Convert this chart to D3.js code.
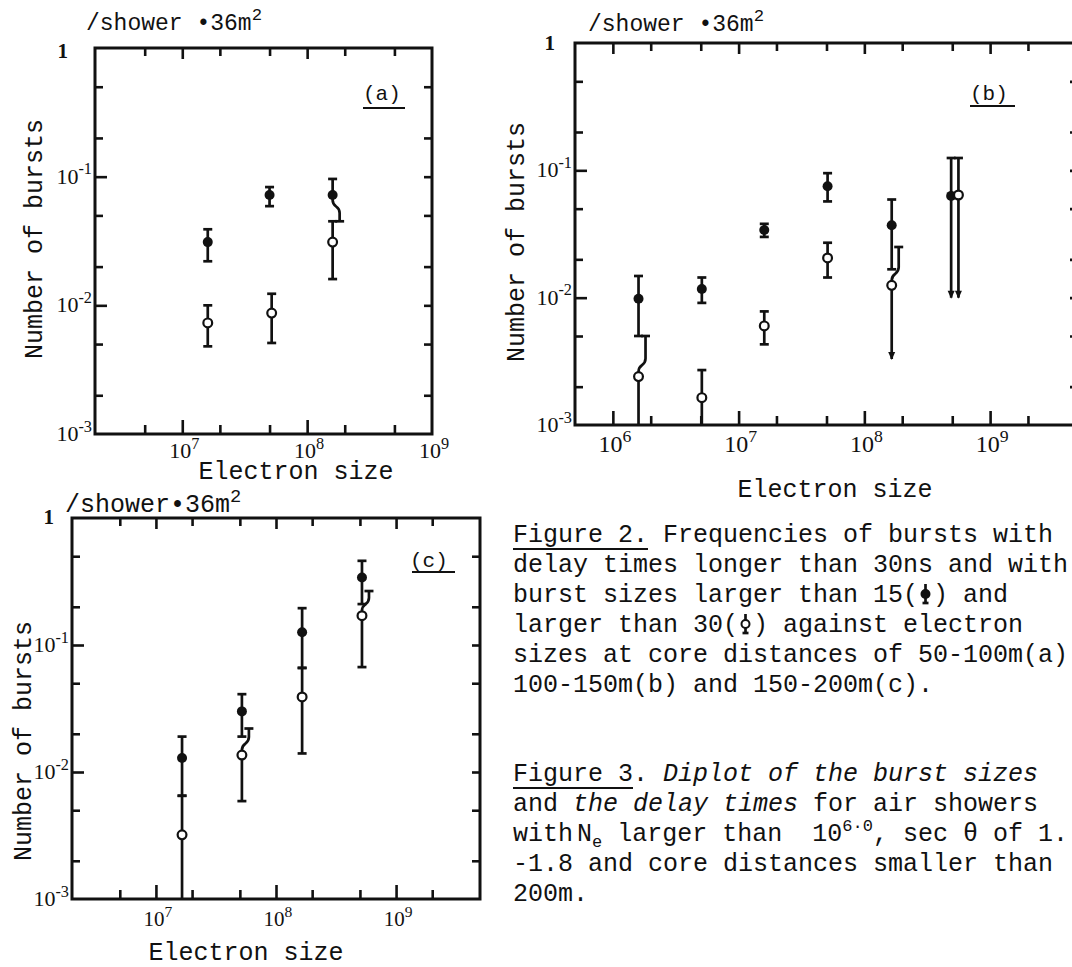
<!DOCTYPE html>
<html>
<head>
<meta charset="utf-8">
<script src="https://d3js.org/d3.v7.min.js"></script>
<style>
body { margin: 0; background: #fff; }
svg { font-family: "Liberation Mono", "DejaVu Sans Mono", monospace; }
.frame { fill: none; stroke: #111; stroke-width: 3; }
.ax .domain { display: none; }
.ax line { stroke: #111; stroke-width: 2.6; }
.bar { fill: none; stroke: #111; stroke-width: 2.7; }
.lab { font-family: "Liberation Serif", serif; fill: #111; }
.txt { fill: #111; }
</style>
</head>
<body>
<svg id="fig" width="1072" height="967"></svg>
<script>
// ---- panel (a) 50-100m ----
var aFilledX  = [1.6e7, 5.0e7, 1.6e8];
var aFilledY  = [0.031, 0.072, 0.072];
var aFilledHi = [0.039, 0.083, 0.096];
var aFilledLo = [0.022, 0.059, 0.045];
var aFilledMark = ["", "", "bendLo"];
var aOpenX  = [1.6e7, 5.2e7, 1.6e8];
var aOpenY  = [0.0073, 0.0087, 0.031];
var aOpenHi = [0.010, 0.0123, 0.045];
var aOpenLo = [0.0048, 0.0051, 0.016];
var aOpenMark = ["", "", ""];
var aXLabels = [1e7, 1e8, 1e9];

// ---- panel (b) 100-150m ----
var bFilledX  = [1.6e6, 5.1e6, 1.6e7, 5.1e7, 1.65e8, 4.9e8];
var bFilledY  = [0.0098, 0.0117, 0.034, 0.075, 0.037, 0.063];
var bFilledHi = [0.0148, 0.0144, 0.038, 0.095, 0.059, 0.125];
var bFilledLo = [0.005, 0.0091, 0.030, 0.057, 0.0167, 0.010];
var bFilledMark = ["", "", "", "", "", "arrowLo"];
var bOpenX  = [1.6e6, 5.1e6, 1.6e7, 5.1e7, 1.65e8, 5.6e8];
var bOpenY  = [0.0024, 0.00164, 0.0060, 0.0205, 0.0125, 0.064];
var bOpenHi = [0.005, 0.0027, 0.0078, 0.027, 0.025, 0.125];
var bOpenLo = [null, null, 0.0043, 0.0144, 0.0033, 0.010];
var bOpenMark = ["bendHi", "", "", "", "bendHi arrowLo", "arrowLo"];
var bXLabels = [1e6, 1e7, 1e8, 1e9];

// ---- panel (c) 150-200m ----
var cFilledX  = [1.65e7, 5.2e7, 1.65e8, 5.2e8];
var cFilledY  = [0.0129, 0.030, 0.126, 0.34];
var cFilledHi = [0.019, 0.041, 0.195, 0.46];
var cFilledLo = [0.0065, 0.019, 0.066, 0.21];
var cFilledMark = ["", "", "", ""];
var cOpenX  = [1.65e7, 5.2e7, 1.65e8, 5.2e8];
var cOpenY  = [0.0032, 0.0136, 0.039, 0.17];
var cOpenHi = [0.0065, 0.022, 0.066, 0.266];
var cOpenLo = [null, 0.0059, 0.014, 0.067];
var cOpenMark = ["", "bendHi", "", "bendHi"];
var cXLabels = [1e7, 1e8, 1e9];

var yLabels = [1e-1, 1e-2, 1e-3];

var caption2 = [
  "Figure 2. Frequencies of bursts with",
  "delay times longer than 30ns and with",
  "burst sizes larger than 15( ) and",
  "larger than 30( ) against electron",
  "sizes at core distances of 50-100m(a)",
  "100-150m(b) and 150-200m(c)."
];

var svg = d3.select("#fig");

var panels = [
  {name: "(a)", x0: 95, x1: 432, y0: 48, y1: 434, xdom: [2e6, 1e9], xl: aXLabels, xls: 22, xly: 24,
   filled: [aFilledX, aFilledY, aFilledHi, aFilledLo, aFilledMark],
   open: [aOpenX, aOpenY, aOpenHi, aOpenLo, aOpenMark],
   unit: {x: 86, y: 30, s: 23, t: "/shower \u202236m"}, one: {x: 68, y: 58},
   tag: {x: 363, y: 100, ux: [363, 405], uy: 108},
   ytitle: {x: 42, y: 239}, xtitle: {x: 296, y: 479}},
  {name: "(b)", x0: 575, x1: 1078, y0: 43, y1: 425, xdom: [5e5, 5e9], xl: bXLabels, xls: 24, xly: 27,
   filled: [bFilledX, bFilledY, bFilledHi, bFilledLo, bFilledMark],
   open: [bOpenX, bOpenY, bOpenHi, bOpenLo, bOpenMark],
   unit: {x: 588, y: 31, s: 23, t: "/shower \u202236m"}, one: {x: 555, y: 50},
   tag: {x: 970, y: 100, ux: [970, 1015], uy: 106},
   ytitle: {x: 524, y: 242}, xtitle: {x: 835, y: 497}},
  {name: "(c)", x0: 72, x1: 480, y0: 518, y1: 899, xdom: [2e6, 5e9], xl: cXLabels, xls: 21, xly: 27,
   filled: [cFilledX, cFilledY, cFilledHi, cFilledLo, cFilledMark],
   open: [cOpenX, cOpenY, cOpenHi, cOpenLo, cOpenMark],
   unit: {x: 65, y: 512, s: 25, t: "/shower\u202236m"}, one: {x: 54, y: 524},
   tag: {x: 410, y: 567, ux: [412, 455], uy: 572},
   ytitle: {x: 31, y: 741}, xtitle: {x: 246, y: 960}}
];

function powLabel(g, x, y, exp, size, anchor) {
  var t = g.append("text").attr("class", "lab")
    .attr("x", x).attr("y", y)
    .attr("font-size", size)
    .attr("text-anchor", anchor);
  t.append("tspan").text("10");
  t.append("tspan").attr("dy", -0.42 * size).attr("font-size", size * 0.74).text(exp);
}

function tickVals(lo, hi) {
  var major = [], minor = [];
  for (var e = -4; e <= 11; e++) {
    [1, 2, 5].forEach(function(m) {
      var v = m * Math.pow(10, e);
      if (v > lo * 1.02 && v < hi * 0.98) (m == 1 ? major : minor).push(v);
    });
  }
  return [major, minor];
}

function drawPanel(p) {
  var x = d3.scaleLog().domain(p.xdom).range([p.x0, p.x1]);
  var y = d3.scaleLog().domain([1e-3, 1]).range([p.y1, p.y0]);
  var g = svg.append("g");
  var xt = tickVals(p.xdom[0], p.xdom[1]);
  var yt = tickVals(1e-3, 1);

  // ticks pointing inward on all four sides
  function ax(axis, vals, len, tx, ty) {
    g.append("g").attr("class", "ax")
      .attr("transform", "translate(" + tx + "," + ty + ")")
      .call(axis.tickValues(vals).tickSize(-len).tickFormat(""));
  }
  ax(d3.axisBottom(x), xt[0], 14, 0, p.y1);
  ax(d3.axisBottom(x), xt[1], 9, 0, p.y1);
  ax(d3.axisTop(x), xt[0], 11, 0, p.y0);
  ax(d3.axisTop(x), xt[1], 8, 0, p.y0);
  ax(d3.axisLeft(y), yt[0], 12, p.x0, 0);
  ax(d3.axisLeft(y), yt[1], 8, p.x0, 0);
  ax(d3.axisRight(y), yt[0].concat(yt[1]), 8, p.x1, 0);

  g.append("rect").attr("class", "frame")
    .attr("x", p.x0).attr("y", p.y0)
    .attr("width", p.x1 - p.x0).attr("height", p.y1 - p.y0);

  // axis labels
  p.xl.forEach(function(v) {
    powLabel(g, x(v) + 2, p.y1 + p.xly, String(Math.round(Math.log10(v))), p.xls, "middle");
  });
  yLabels.forEach(function(v) {
    powLabel(g, p.x0 - 3, y(v) + 7, String(Math.round(Math.log10(v))), 22, "end");
  });
  g.append("text").attr("class", "lab").attr("x", p.one.x).attr("y", p.one.y)
    .attr("text-anchor", "end").attr("font-size", 21).attr("font-weight", "bold").text("1");

  var u = g.append("text").attr("class", "txt").attr("x", p.unit.x).attr("y", p.unit.y)
    .attr("font-size", p.unit.s);
  u.append("tspan").text(p.unit.t);
  u.append("tspan").attr("dy", -10).attr("font-size", p.unit.s * 0.75).text("2");

  g.append("text").attr("class", "txt").attr("x", p.tag.x).attr("y", p.tag.y)
    .attr("font-size", 21).text(p.name);
  g.append("line").attr("x1", p.tag.ux[0]).attr("x2", p.tag.ux[1])
    .attr("y1", p.tag.uy).attr("y2", p.tag.uy)
    .attr("stroke", "#111").attr("stroke-width", 2);

  g.append("text").attr("class", "txt").attr("font-size", 25)
    .attr("text-anchor", "middle")
    .attr("transform", "translate(" + p.ytitle.x + "," + p.ytitle.y + ") rotate(-90)")
    .text("Number of bursts");
  g.append("text").attr("class", "txt").attr("font-size", 25)
    .attr("text-anchor", "middle")
    .attr("x", p.xtitle.x).attr("y", p.xtitle.y)
    .text("Electron size");

  // error bars
  function seg(xp, yp, yEnd, bend, arrow, cap) {
    var dir = yEnd > yp ? 1 : -1, off = bend ? 7 : 0, d;
    if (bend) {
      var a = 5, b = 18;
      if (Math.abs(yEnd - yp) < b + 2) b = Math.abs(yEnd - yp) - 2;
      d = "M" + xp + "," + yp + "L" + xp + "," + (yp + dir * a) +
        "C" + xp + "," + (yp + dir * (a + 8)) + " " + (xp + off) + "," + (yp + dir * (b - 8)) +
        " " + (xp + off) + "," + (yp + dir * b) + "L" + (xp + off) + "," + yEnd;
    } else {
      d = "M" + xp + "," + yp + "L" + xp + "," + yEnd;
    }
    g.append("path").attr("class", "bar").attr("d", d);
    var xe = xp + off;
    if (arrow) {
      g.append("path").attr("fill", "#111")
        .attr("d", "M" + (xe - 3.5) + "," + (yEnd - 7) + "L" + (xe + 3.5) + "," + (yEnd - 7) +
          "L" + xe + "," + (yEnd + 1) + "Z");
    } else if (cap) {
      g.append("line").attr("class", "bar")
        .attr("x1", xe - 4.5).attr("x2", xe + 4.5).attr("y1", yEnd).attr("y2", yEnd);
    }
  }

  [p.filled, p.open].forEach(function(s) {
    s[0].forEach(function(xv, i) {
      var m = s[4][i], xp = x(xv), yp = y(s[1][i]);
      seg(xp, yp, y(s[2][i]), m.indexOf("bendHi") >= 0, false, true);
      if (s[3][i] === null) seg(xp, yp, p.y1, false, false, false);
      else seg(xp, yp, y(s[3][i]), m.indexOf("bendLo") >= 0, m.indexOf("arrowLo") >= 0, true);
    });
  });

  g.selectAll("circle.f").data(p.filled[0]).enter().append("circle")
    .attr("cx", function(d) { return x(d); })
    .attr("cy", function(d, i) { return y(p.filled[1][i]); })
    .attr("r", 5).attr("fill", "#111");
  g.selectAll("circle.o").data(p.open[0]).enter().append("circle")
    .attr("cx", function(d) { return x(d); })
    .attr("cy", function(d, i) { return y(p.open[1][i]); })
    .attr("r", 4.4).attr("fill", "#fff").attr("stroke", "#111").attr("stroke-width", 2.2);
}

panels.forEach(drawPanel);

// ---- captions ----
var fs = 25, cw = fs * 0.6, cx0 = 513;
var cap = svg.append("g").attr("class", "txt").attr("font-size", fs);
caption2.forEach(function(line, i) {
  cap.append("text").attr("x", cx0).attr("y", 542 + i * 30)
    .attr("xml:space", "preserve").style("white-space", "pre").text(line);
});
cap.append("line").attr("x1", cx0).attr("x2", cx0 + 9 * cw).attr("y1", 549).attr("y2", 549)
  .attr("stroke", "#111").attr("stroke-width", 1.8);

// burst marks used inside the caption text
function capMark(cxm, cym, filled) {
  cap.append("line").attr("class", "bar").attr("stroke-width", 2)
    .attr("x1", cxm).attr("x2", cxm).attr("y1", cym - 10).attr("y2", cym + 9);
  cap.append("line").attr("class", "bar").attr("stroke-width", 2)
    .attr("x1", cxm - 3).attr("x2", cxm + 3).attr("y1", cym + 9).attr("y2", cym + 9);
  cap.append("circle").attr("cx", cxm).attr("cy", cym).attr("r", 4)
    .attr("fill", filled ? "#111" : "#fff").attr("stroke", "#111").attr("stroke-width", 2);
}
capMark(cx0 + 27.5 * cw, 542 + 2 * 30 - 8, true);
capMark(cx0 + 15.5 * cw, 542 + 3 * 30 - 8, false);

var y3 = 781;
var t1 = cap.append("text").attr("x", cx0).attr("y", y3).attr("xml:space", "preserve").style("white-space", "pre");
t1.append("tspan").text("Figure 3. ");
t1.append("tspan").attr("font-style", "italic").text("Diplot of the burst sizes");
cap.append("line").attr("x1", cx0).attr("x2", cx0 + 8 * cw).attr("y1", y3 + 7).attr("y2", y3 + 7)
  .attr("stroke", "#111").attr("stroke-width", 1.8);
var t2 = cap.append("text").attr("x", cx0).attr("y", y3 + 30).attr("xml:space", "preserve").style("white-space", "pre");
t2.append("tspan").text("and ");
t2.append("tspan").attr("font-style", "italic").text("the delay times");
t2.append("tspan").text(" for air showers");
var t3 = cap.append("text").attr("x", cx0).attr("y", y3 + 60).attr("xml:space", "preserve").style("white-space", "pre");
t3.append("tspan").text("with");
t3.append("tspan").attr("dx", 4).text("N");
t3.append("tspan").attr("dy", 6).attr("font-size", 17).text("e");
t3.append("tspan").attr("dy", -6).text(" larger than  10");
t3.append("tspan").attr("dy", -10).attr("font-size", 17).text("6\u00b70");
t3.append("tspan").attr("dy", 10).text(", sec \u03b8 of 1.");
cap.append("text").attr("x", cx0).attr("y", y3 + 90).text("-1.8 and core distances smaller than");
cap.append("text").attr("x", cx0).attr("y", y3 + 120).text("200m.");
</script>
</body>
</html>
